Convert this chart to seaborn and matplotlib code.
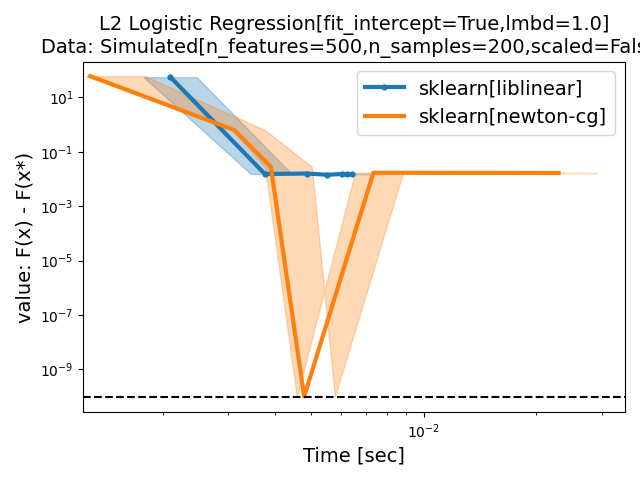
"""Convergence curves: L2 logistic regression solvers"""

import numpy as np
import pandas as pd
import matplotlib
matplotlib.use('Agg')
import matplotlib.pyplot as plt
import seaborn as sns

# liblinear: median time, objective gap, 10% / 90% time quantiles
lib_time = [2.10e-3, 3.76e-3, 4.87e-3, 5.53e-3, 6.04e-3, 6.23e-3, 6.42e-3]
lib_value = [55.0, 0.0151, 0.0158, 0.0142, 0.0151, 0.0150, 0.0151]
lib_q1 = [1.78e-3, 3.45e-3, 4.60e-3, 5.20e-3, 5.70e-3, 5.90e-3, 6.10e-3]
lib_q9 = [2.47e-3, 4.44e-3, 5.40e-3, 6.10e-3, 6.70e-3, 7.00e-3, 7.30e-3]

# newton-cg
ncg_time = [1.28e-3, 3.11e-3, 3.90e-3, 4.79e-3, 7.34e-3, 2.18e-2, 2.30e-2]
ncg_value = [60.0, 0.628, 0.0281, 1.0e-10, 0.0168, 0.0165, 0.0165]
ncg_q1 = [1.25e-3, 3.07e-3, 3.76e-3, 4.58e-3, 6.55e-3, 1.81e-2, 1.95e-2]
ncg_q9 = [1.80e-3, 3.76e-3, 5.02e-3, 5.79e-3, 8.81e-3, 2.62e-2, 2.91e-2]

eps = 1e-10

lib = pd.DataFrame({'time': lib_time, 'value': lib_value})
ncg = pd.DataFrame({'time': ncg_time, 'value': ncg_value})

blue, orange = '#1f77b4', '#ff7f0e'

fig, ax = plt.subplots(figsize=(6.4, 4.8), dpi=100)

sns.lineplot(data=lib, x='time', y='value', color=blue, marker='.',
             markersize=9, markeredgewidth=0, linewidth=3,
             label='sklearn[liblinear]', ax=ax)
ax.fill_betweenx(lib_value, lib_q1, lib_q9, color=blue, alpha=.3)

sns.lineplot(data=ncg, x='time', y='value', color=orange, linewidth=3,
             label='sklearn[newton-cg]', ax=ax)
ax.fill_betweenx(ncg_value, ncg_q1, ncg_q9, color=orange, alpha=.3)

ax.axhline(eps, color='k', linestyle='--')

ax.set_xscale('log')
ax.set_yscale('log')
ax.set_xlim(1.227e-3, 3.465e-2)
ax.set_ylim(2.63e-11, 204)

ax.set_xlabel('Time [sec]', fontsize=14)
ax.set_ylabel('value: F(x) - F(x*)', fontsize=14)
ax.set_title('L2 Logistic Regression[fit_intercept=True,lmbd=1.0]\n'
             'Data: Simulated[n_features=500,n_samples=200,scaled=False]',
             fontsize=14)
ax.legend(loc='upper right', fontsize=14)

fig.subplots_adjust(left=0.1302, right=0.9766, top=0.8715, bottom=0.141)
fig.savefig('out.png', dpi=100)
plt.close(fig)
